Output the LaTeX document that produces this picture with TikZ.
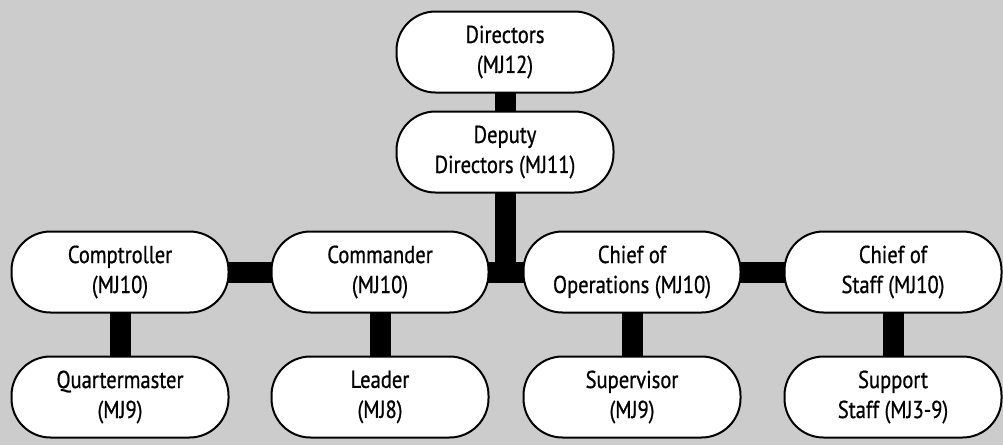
\documentclass[tikz,border=0pt]{standalone}
\usepackage{fontspec}
\setmainfont[FakeStretch=0.84,FakeBold=0.7]{PT Sans}
\pgfdeclarelayer{bg}
\pgfsetlayers{bg,main}
\begin{document}
\begin{tikzpicture}[x=1pt,y=-1pt,
  rank/.style={draw=black, line width=2pt, fill=white, rectangle,
    rounded corners=39pt, minimum width=217pt, minimum height=81pt,
    align=center, inner sep=0pt, font={\fontsize{24.5}{30}\selectfont}},
  bar/.style={line width=21pt, draw=black}]
  \useasboundingbox (0,0) rectangle (1003,445);

  % top of the hierarchy
  \node[rank] (dir) at (505,52)  {Directors\\(MJ12)};
  \node[rank] (dep) at (505,152) {Deputy\\Directors (MJ11)};

  % second tier
  \node[rank] (comp) at (120,272) {Comptroller\\(MJ10)};
  \node[rank] (cmd)  at (380,272) {Commander\\(MJ10)};
  \node[rank] (ops)  at (632,272) {Chief of\\Operations (MJ10)};
  \node[rank] (cos)  at (893,272) {Chief of\\Staff (MJ10)};

  % third tier
  \node[rank] (qm)  at (120,397) {Quartermaster\\(MJ9)};
  \node[rank] (ldr) at (380,397) {Leader\\(MJ8)};
  \node[rank] (sup) at (632,397) {Supervisor\\(MJ9)};
  \node[rank] (sst) at (893,397) {Support\\Staff (MJ3-9)};

  \begin{pgfonlayer}{bg}
    \fill[black!20] (0,0) rectangle (1003,445);
    \draw[bar] (dir.center) -- (dep.center);
    \draw[bar] (dep.center) -- (dep.center |- cmd.center);
    \draw[bar] (comp.center) -- (cmd.center);
    \draw[bar] (cmd.center) -- (ops.center);
    \draw[bar] (ops.center) -- (cos.center);
    \draw[bar] (comp.center) -- (qm.center);
    \draw[bar] (cmd.center) -- (ldr.center);
    \draw[bar] (ops.center) -- (sup.center);
    \draw[bar] (cos.center) -- (sst.center);
  \end{pgfonlayer}
\end{tikzpicture}
\end{document}
